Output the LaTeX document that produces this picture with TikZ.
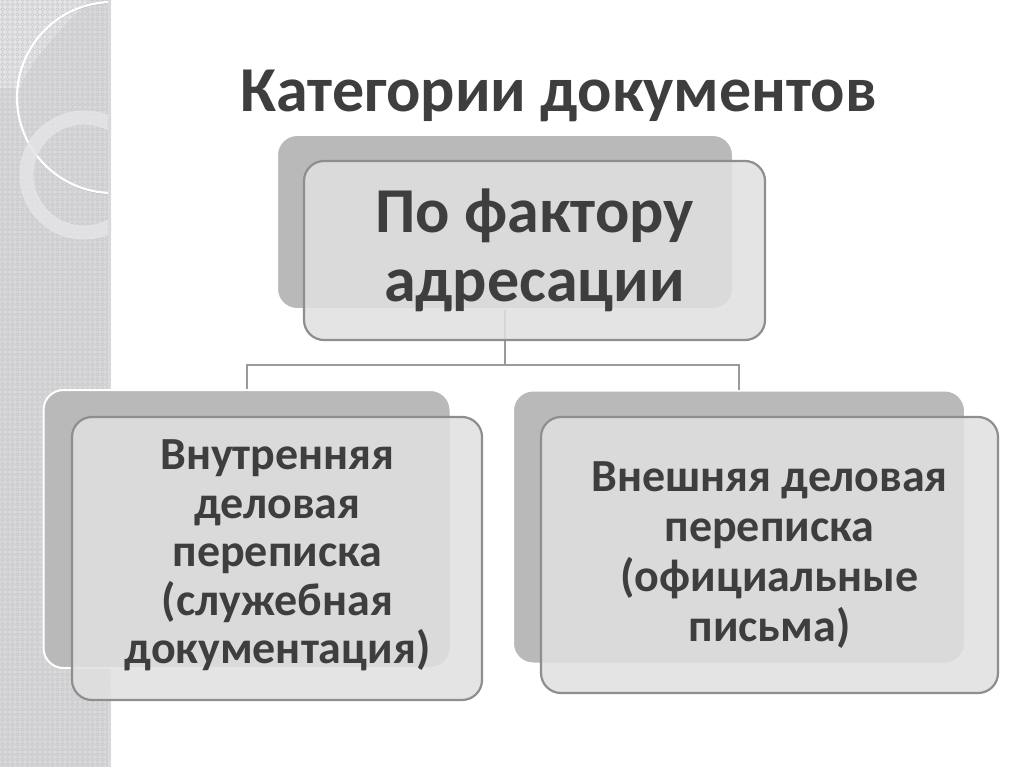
\documentclass[tikz,border=0pt]{standalone}
\usepackage{fontspec}
\setmainfont{Carlito}
\usetikzlibrary{patterns}
\definecolor{stripgray}{HTML}{D8D8DB}
\definecolor{stripdot}{HTML}{C6C6CA}
\definecolor{striplight}{HTML}{E4E4E6}
\definecolor{backgray}{HTML}{B9B9B9}
\definecolor{frontgray}{HTML}{E0E0E0}
\definecolor{edgegray}{HTML}{8E8E8E}
\definecolor{linegray}{HTML}{9A9A9A}
\definecolor{textgray}{HTML}{3E3E3E}
\pgfdeclarepatternformonly{ringdots}{\pgfqpoint{-1pt}{-1pt}}{\pgfqpoint{6pt}{6pt}}{\pgfqpoint{5pt}{5pt}}{%
  \pgfsetlinewidth{0.5pt}\pgfpathcircle{\pgfqpoint{2.5pt}{2.5pt}}{1.7pt}\pgfusepath{stroke}}
\begin{document}
\begin{tikzpicture}[x=1pt,y=-1pt,
  backbox/.style={rounded corners=20pt,fill=backgray,draw=white,line width=2pt,inner sep=0pt},
  frontbox/.style={rounded corners=20pt,fill=frontgray,fill opacity=0.85,draw=edgegray,line width=2.2pt,inner sep=0pt},
  boxtext/.style={text=textgray,align=center,inner sep=0pt},
  link/.style={draw=linegray,line width=1.8pt}]
\useasboundingbox (0,0) rectangle (1024,767);
\fill[white] (0,0) rectangle (1024,767);
% left strip
\fill[stripgray] (0,0) rectangle (111,767);
\fill[striplight] (0,0) -- (90,0) .. controls (60,30) and (30,60) .. (20,88) -- (0,88) -- cycle;
\fill[pattern=ringdots,pattern color=stripdot] (0,0) rectangle (111,767);
\begin{scope}
\clip (0,0) rectangle (111,767);
\draw[gray!60,line width=1pt] (112.5,98.5) circle (95.5);
\draw[white,line width=2.2pt] (112.5,97.5) circle (95.5);
\fill[striplight,even odd rule,opacity=0.85] (84,175) circle (64) (84,175) circle (51);
\draw[white!80!gray,line width=0.8pt] (84,175) circle (64) (84,175) circle (51);
\end{scope}
\fill[gray!30] (108,0) rectangle (111,767);
% title
\node[text=textgray,font=\fontsize{64}{66}\bfseries\selectfont,anchor=base] (title) at (558.5,112) {Категории документов};
% back boxes
\node[backbox,minimum width=456pt,minimum height=174pt] (topback) at (505,222) {};
\node[backbox,minimum width=407pt,minimum height=278pt] (leftback) at (247,529) {};
\node[backbox,minimum width=452pt,minimum height=273pt] (rightback) at (739,527) {};
% connectors
\coordinate (split) at (topback.south |- 0,365);
\draw[link] (topback.south) -- (split);
\draw[link] (leftback.north) |- (split) -| (rightback.north);
% front boxes
\node[frontbox,minimum width=461pt,minimum height=179pt] (topfront) at (534.5,250.5) {};
\node[frontbox,minimum width=410pt,minimum height=283pt] (leftfront) at (277,558.5) {};
\node[frontbox,minimum width=457pt,minimum height=276pt] (rightfront) at (769.5,555) {};
% texts
\node[boxtext,font=\fontsize{64}{69}\bfseries\selectfont] (toptext) at (534.5,250.5) {По фактору\\адресации};
\node[boxtext,font=\fontsize{46}{48.5}\bfseries\selectfont] (lefttext) at (277.5,555.5) {Внутренняя\\деловая\\переписка\\(служебная\\документация)};
\node[boxtext,font=\fontsize{46}{50}\bfseries\selectfont] (righttext) at (769.5,555.5) {Внешняя деловая\\переписка\\(официальные\\письма)};
\end{tikzpicture}
\end{document}
